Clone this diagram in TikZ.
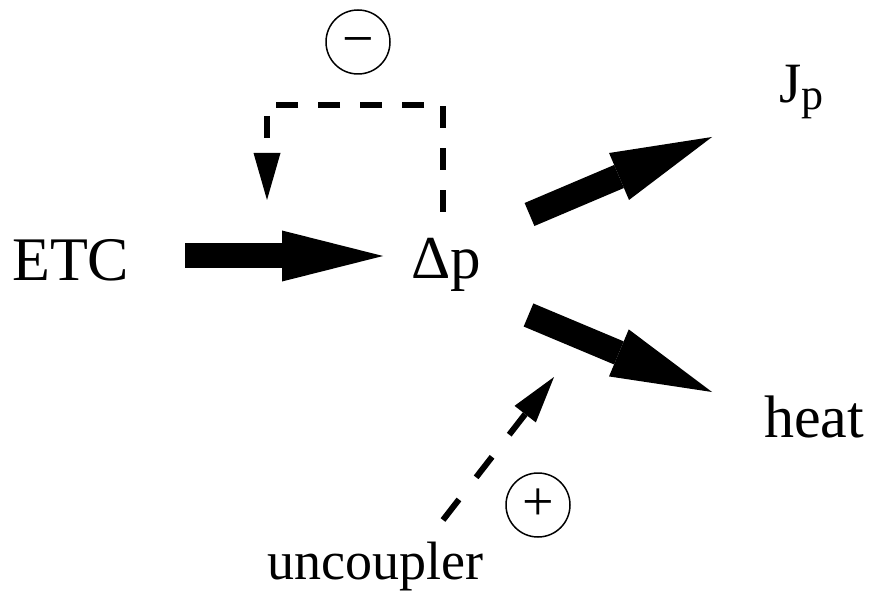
\documentclass[tikz,border=0pt]{standalone}
\usepackage{fontspec}
\setmainfont{Liberation Serif}
\usetikzlibrary{arrows.meta}
\tikzset{
  lbl/.style={inner sep=0pt, anchor=base west},
  bigarrow/.style={line width=25pt, -{Triangle[length=101pt,width=51pt,line width=0pt]}},
  dasharrow/.style={line width=6pt, -{Triangle[length=47pt,width=27pt,line width=0pt]}},
  signcircle/.style={draw, circle, line width=1.5pt, minimum size=64pt, inner sep=0pt, font=\fontsize{56}{56}\selectfont},
}
\begin{document}
\begin{tikzpicture}[x=1pt,y=-1pt]
\useasboundingbox (0,0) rectangle (874,593);
% labels
\node[lbl, font=\fontsize{62}{62}\selectfont] (etc) at (12,280) {ETC};
\node[lbl, font=\fontsize{61}{61}\selectfont] (dp) at (411,278) {Δp};
\node[lbl, font=\fontsize{57}{57}\selectfont] (jp) at (779,103) {J\raisebox{-7pt}{\fontsize{44}{44}\selectfont p}};
\node[lbl, font=\fontsize{60}{60}\selectfont] (heat) at (764,437) {heat};
\node[lbl, font=\fontsize{54}{54}\selectfont] (unc) at (267,579) {uncoupler};
\node[signcircle] (minus) at (358,42) {\vphantom{+}−};
\node[signcircle] (plus) at (538,505) {+};
% arrow end points
\coordinate (etcS) at (185,256);
\coordinate (etcT) at (383,256);
\coordinate (jpS) at (529.5,214.5);
\coordinate (jpT) at (712,137);
\coordinate (htS) at (528.5,315);
\coordinate (htT) at (712,392);
\coordinate (fbS) at (443,212);
\coordinate (fbA) at (443,105);
\coordinate (fbB) at (267,105);
\coordinate (fbT) at (267,200);
\coordinate (ucS) at (443,520);
\coordinate (ucT) at (554,377);
% thick arrows
\draw[bigarrow] (etcS) -- (etcT);
\draw[bigarrow] (jpS) -- (jpT);
\draw[bigarrow] (htS) -- (htT);
% dashed arrows
\draw[dasharrow, dash pattern=on 22pt off 20pt, line join=miter] (fbS) -- (fbA) -- (fbB) -- (fbT);
\draw[dasharrow, dash pattern=on 26pt off 28pt] (ucS) -- (ucT);
\end{tikzpicture}
\end{document}
